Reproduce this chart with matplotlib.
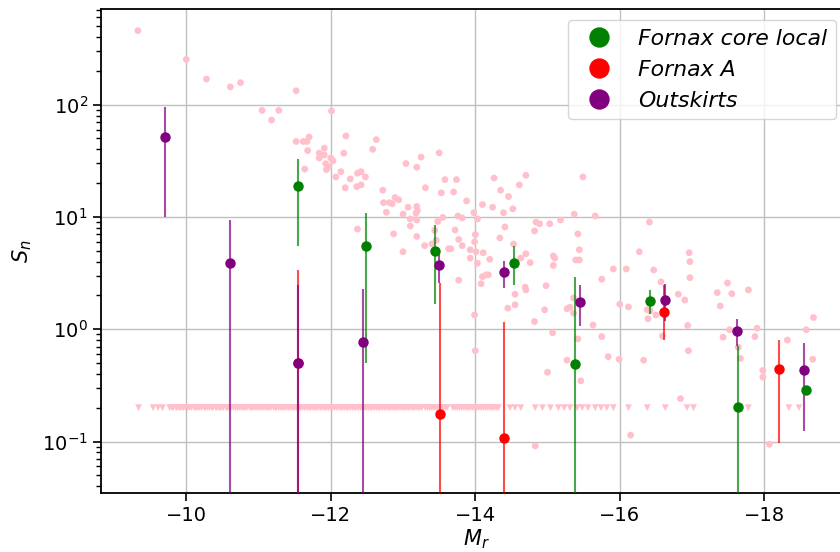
import matplotlib
matplotlib.use("Agg")
import matplotlib.pyplot as plt
from matplotlib.lines import Line2D
from matplotlib.collections import LineCollection
import numpy as np

# Background comparison sample: detections (M_r, S_n)
bg_mr = [-9.33, -10.0, -10.28, -10.61, -10.75, -11.52, -11.05, -11.28, -11.18, -12.01,
         -11.52, -11.62, -11.67, -11.70, -11.68, -11.64, -11.84, -11.91, -11.84, -11.91,
         -11.93, -11.97, -11.94, -12.0, -12.03, -12.21, -12.18, -12.07, -12.14, -12.27,
         -12.20, -12.37, -12.42, -12.48, -12.36, -12.42, -12.58, -12.63, -12.72, -12.73,
         -12.81, -12.77, -12.37,
         -12.85, -12.89, -12.94, -13.04, -13.19, -13.25, -13.50, -13.31, -13.58, -13.74,
         -13.53, -13.70, -13.88, -13.07, -13.19, -13.20, -13.18, -13.0, -13.10, -13.19,
         -13.10, -12.87, -13.0, -13.19, -13.30, -13.40, -13.44, -13.46, -13.48, -13.55,
         -13.72, -13.77, -13.82, -13.76, -13.82, -13.63, -13.66, -13.98, -14.03, -14.0,
         -13.99, -14.01, -13.93, -13.93, -14.03, -14.11, -14.20, -14.10, -14.24, -14.26,
         -14.35, -14.46, -14.39, -14.52, -14.61, -14.70, -14.41, -14.34, -14.53, -14.63,
         -14.70, -14.76, -14.82, -14.84, -14.89, -15.03, -14.10, -14.15, -14.18, -13.77,
         -13.99, -14.0, -14.08, -14.45, -14.55, -14.55, -14.82, -14.69, -14.70, -15.07,
         -14.96, -14.98, -15.08, -15.10, -15.08, -15.18, -15.37, -15.42, -15.44, -15.39,
         -15.44, -15.49, -15.66, -15.27, -15.31, -15.36, -15.36, -15.42, -15.63, -15.75,
         -15.75, -15.84, -15.91, -16.09, -16.0, -16.12, -15.99, -16.27, -16.41, -16.47,
         -16.57, -16.38, -16.42, -16.50, -16.59, -16.81,
         -15.0, -14.83, -15.27, -15.46, -16.15,
         -16.39, -16.33, -16.84, -16.90, -16.96, -16.97, -16.97, -16.94, -16.95, -17.35,
         -17.39, -17.49, -17.55, -17.78, -17.43, -17.52, -17.64, -17.67, -17.87, -17.90,
         -17.98, -17.98, -18.07, -18.32, -18.58, -18.68, -18.67]
bg_sn = [456, 253, 169, 144, 157, 133, 89, 89, 73, 88,
         47, 47, 47, 51.5, 39, 26.7, 37, 41, 33.5, 35.7,
         29.8, 28, 26.4, 33.5, 31.6, 52.6, 37, 22.7, 25.3, 21.8,
         18.2, 24.5, 25.3, 22.7, 18.6, 19.3, 40, 48.8, 17.3, 13.4,
         13.4, 11, 7.8,
         13.1, 14.9, 14.2, 29.9, 27.7, 34.1, 37.2, 18.2, 21.5, 21.5,
         16.4, 16.7, 13.9, 12.2, 12.4, 11.4, 10.8, 10.6, 9.6, 9.4,
         8.3, 7.06, 4.9, 6.7, 5.55, 5.75, 7.6, 6.2, 9.1, 9.9,
         7.66, 6.3, 5.55, 10.2, 9.8, 5.2, 5.2, 10.9, 9.6, 6.96,
         6.0, 4.9, 5.1, 4.3, 3.87, 4.8, 4.2, 12.9, 12.2, 22.2,
         17.3, 15.2, 10.9, 11.8, 19.3, 23.5, 8.15, 6.5, 5.75, 4.3,
         4.7, 3.92, 7.5, 9.0, 8.7, 8.7, 2.94, 3.05, 3.05, 2.73,
         1.34, 0.644, 2.54, 1.54, 2.05, 1.65, 1.17, 2.37, 2.24, 0.93,
         1.49, 2.44, 4.5, 4.3, 3.7, 9.4, 10.6, 7.06, 5.1, 4.14,
         4.14, 22.7, 10.2, 1.52, 1.57, 1.9, 1.39, 0.82, 1.09, 2.79,
         0.86, 0.57, 3.44, 3.44, 1.67, 1.58, 0.54, 4.9, 9.0, 3.37,
         2.64, 1.49, 1.46, 1.34, 0.87, 2.05,
         0.414, 0.0915, 0.53, 0.347, 0.114,
         1.24, 0.53, 0.241, 1.82, 4.8, 4.0, 2.88, 1.08, 0.644, 2.12,
         1.61, 2.58, 2.07, 2.24, 0.85, 0.99, 0.69, 0.55, 0.86, 1.02,
         0.43, 0.374, 0.0946, 0.80, 0.99, 1.27, 0.54]

# Background sample: upper limits (M_r), all at S_n = 0.2
lim_mr = [-9.34, -9.54, -9.61, -9.67,
          -9.77, -9.80, -9.82, -9.86, -9.88, -9.91, -9.93, -9.96, -9.99, -10.02,
          -10.04, -10.07, -10.11, -10.13, -10.15, -10.18, -10.21, -10.25, -10.26, -10.29,
          -10.32, -10.35, -10.37, -10.41, -10.43, -10.46, -10.48, -10.51, -10.55, -10.57,
          -10.59, -10.62, -10.65, -10.68, -10.71, -10.73, -10.76, -10.79, -10.81, -10.84,
          -10.88, -10.90, -10.92, -10.95, -10.98, -11.01, -11.04, -11.06, -11.09, -11.12,
          -11.14, -11.17, -11.21, -11.23, -11.25, -11.28, -11.31, -11.34, -11.36, -11.39,
          -11.42, -11.45, -11.48, -11.50, -11.53, -11.56, -11.58, -11.61, -11.64, -11.67,
          -11.70, -11.72, -11.75, -11.78, -11.80, -11.83, -11.86, -11.89, -11.92, -11.94,
          -11.97, -12.00, -12.02, -12.05, -12.08, -12.11, -12.14, -12.16, -12.19, -12.22,
          -12.24, -12.27, -12.30, -12.33, -12.35, -12.38, -12.41, -12.44, -12.47, -12.49,
          -12.52, -12.55, -12.57, -12.60, -12.63, -12.66, -12.68, -12.71, -12.74, -12.77,
          -12.80, -12.82, -12.85, -12.88, -12.90, -12.93, -12.96, -12.99, -13.01, -13.04,
          -13.07, -13.10, -13.13, -13.15, -13.18, -13.21, -13.23, -13.26, -13.31, -13.34,
          -13.37, -13.40, -13.43, -13.46, -13.49, -13.52, -13.55, -13.58, -13.61, -13.69,
          -13.72, -13.75, -13.78, -13.81, -13.84, -13.87, -13.90, -13.93, -13.96, -13.99,
          -14.02, -14.05, -14.08, -14.11, -14.14, -14.17, -14.20, -14.23, -14.26, -14.29,
          -14.32,
          -14.48, -14.55, -14.63, -14.83, -14.93, -15.04, -15.15, -15.23, -15.31, -15.41,
          -15.48, -15.56, -15.66, -15.74, -15.82, -15.91, -16.12, -16.38, -16.63, -16.93,
          -17.02, -17.78, -18.34, -18.48]
lim_sn = 0.2

# Fornax core local
core_mr = [-11.55, -12.49, -13.44, -14.53, -15.38, -16.42, -17.63, -18.58]
core_sn = [19.0, 5.55, 5.0, 3.92, 0.49, 1.79, 0.203, 0.288]
core_lo = [5.5, 0.505, 1.67, 2.47, 0.0, 1.36, 0.0, 0.288]
core_hi = [32.7, 10.8, 8.4, 5.5, 2.94, 2.24, 0.71, 0.288]

# Fornax A
fa_mr = [-11.54, -13.51, -14.40, -16.61, -18.20]
fa_sn = [0.5, 0.176, 0.108, 1.42, 0.446]
fa_lo = [0.0, 0.0, 0.0, 0.80, 0.0966]
fa_hi = [3.35, 2.6, 1.15, 2.5, 0.80]

# Outskirts
out_mr = [-9.70, -10.61, -11.54, -12.45, -13.50, -14.40, -15.45, -16.62, -17.62, -18.55]
out_sn = [52, 3.87, 0.505, 0.77, 3.74, 3.22, 1.74, 1.82, 0.966, 0.43]
out_lo = [10, 0.0, 0.0, 0.0, 2.6, 2.34, 1.07, 1.19, 0.71, 0.125]
out_hi = [95, 9.4, 2.5, 2.29, 4.8, 4.08, 2.47, 2.51, 1.23, 0.75]

groups = [
    ("Fornax core local", "green", core_mr, core_sn, core_lo, core_hi),
    ("Fornax A", "red", fa_mr, fa_sn, fa_lo, fa_hi),
    ("Outskirts", "purple", out_mr, out_sn, out_lo, out_hi),
]

fig = plt.figure(figsize=(8.4, 5.52), dpi=100)
ax = fig.add_axes([101 / 840, (552 - 492.7) / 552, (851 - 101) / 840, (492.7 - 9) / 552])

ax.scatter(bg_mr, bg_sn, s=24, color="pink", edgecolors="none", zorder=1)
ax.scatter(lim_mr, [lim_sn] * len(lim_mr), s=24, marker="v", color="pink",
           edgecolors="none", zorder=1)

handles = []
for label, col, mr, sn, lo, hi in groups:
    sn_a = np.array(sn, dtype=float)
    err = [sn_a - np.array(lo), np.array(hi) - sn_a]
    ax.errorbar(mr, sn, yerr=err, fmt="o", color=col, ecolor=col, elinewidth=1.5,
                markersize=6.5, capsize=0, zorder=3)
    handles.append(Line2D([], [], ls="none", marker="o", color=col, markersize=6.5))

# translucent error bars
for coll in ax.collections:
    if isinstance(coll, LineCollection):
        coll.set_alpha(0.7)

ax.set_yscale("log")
ax.set_xlim(-8.82, -19.2)
ax.set_ylim(0.035, 711)
ax.set_xticks([-10, -12, -14, -16, -18])
ax.grid(True, which="major", color="#c0c0c0", linewidth=1.0)
ax.set_axisbelow(True)

for side in ["left", "bottom", "top"]:
    ax.spines[side].set_linewidth(1.3)
    ax.spines[side].set_color("black")
ax.tick_params(which="major", length=6, width=1.2, labelsize=14, direction="out")
ax.tick_params(which="minor", length=3.5, width=1.0)

ax.set_xlabel("$M_r$", fontsize=15, labelpad=2)
ax.set_ylabel("$S_n$", fontsize=15, labelpad=6)

ax.legend(handles, [g[0] for g in groups], loc="upper right",
          bbox_to_anchor=(1 - 4 / 750, 1), markerscale=2.1,
          prop={"style": "italic", "size": 15.8})

fig.savefig("out.png", dpi=100)
